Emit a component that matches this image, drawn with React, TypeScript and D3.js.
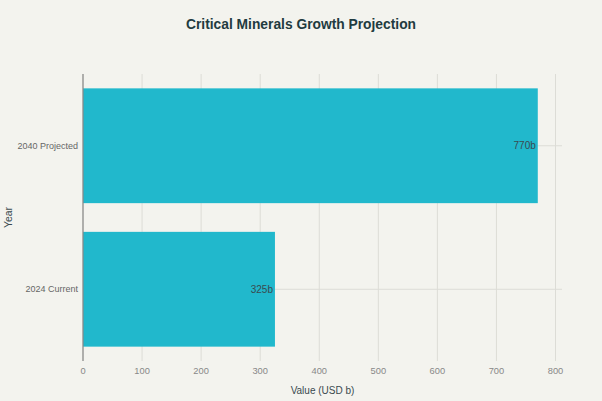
import React from "react";
import * as d3 from "d3";

const categories = ["2040 Projected", "2024 Current"];
const values = [770, 325];
const valueLabels = ["770b", "325b"];
const xTicks = [0, 100, 200, 300, 400, 500, 600, 700, 800];

const W = 602, H = 401;
const M = { left: 83, right: 40, top: 74, bottom: 40 };
const font = "'Liberation Sans', Arial, sans-serif";

export default function App() {
  const x = d3.scaleLinear().domain([0, 811]).range([M.left, W - M.right]);
  const yBand = d3.scaleBand().domain(categories).range([M.top, H - M.bottom]);
  return (
    <svg width={W} height={H} style={{ position: "absolute", left: 0, top: 0, background: "#f3f3ee" }} fontFamily={font}>
      <rect x={0} y={0} width={W} height={H} fill="#f3f3ee" />
      <text x={W / 2} y={29} textAnchor="middle" fontSize={13.8} fontWeight={700} fill="#1f3b40">Critical Minerals Growth Projection</text>
      {xTicks.map(t => (
        <line key={t} x1={x(t)} x2={x(t)} y1={M.top} y2={H - M.bottom} stroke="#dcdcd6" strokeWidth={1} />
      ))}
      {categories.map(c => (
        <line key={c} x1={M.left} x2={W - M.right} y1={yBand(c)! + yBand.bandwidth() / 2} y2={yBand(c)! + yBand.bandwidth() / 2} stroke="#dcdcd6" strokeWidth={1} />
      ))}
      {categories.map((c, i) => {
        const cy = yBand(c)! + yBand.bandwidth() / 2;
        const h = yBand.bandwidth() * 0.8;
        return (
          <g key={c}>
            <rect x={x(0)} y={cy - h / 2} width={x(values[i]) - x(0)} height={h} fill="#21b8cc" />
            <text x={x(values[i]) - 2} y={cy} dy="0.35em" textAnchor="end" fontSize={10} fill="#3a4a4f">{valueLabels[i]}</text>
            <text x={M.left - 5} y={cy} dy="0.35em" textAnchor="end" fontSize={9} fill="#666">{c}</text>
          </g>
        );
      })}
      <line x1={M.left} x2={M.left} y1={M.top} y2={H - M.bottom} stroke="#888" strokeWidth={1.2} />
      {xTicks.map(t => (
        <text key={t} x={x(t)} y={374} textAnchor="middle" fontSize={9.3} fill="#888">{t}</text>
      ))}
      <text x={(M.left + W - M.right) / 2} y={394} textAnchor="middle" fontSize={10} fill="#3a4a4f">Value (USD b)</text>
      <text transform={`translate(12,${(M.top + H - M.bottom) / 2}) rotate(-90)`} textAnchor="middle" fontSize={10.5} fill="#3a4a4f">Year</text>
    </svg>
  );
}
